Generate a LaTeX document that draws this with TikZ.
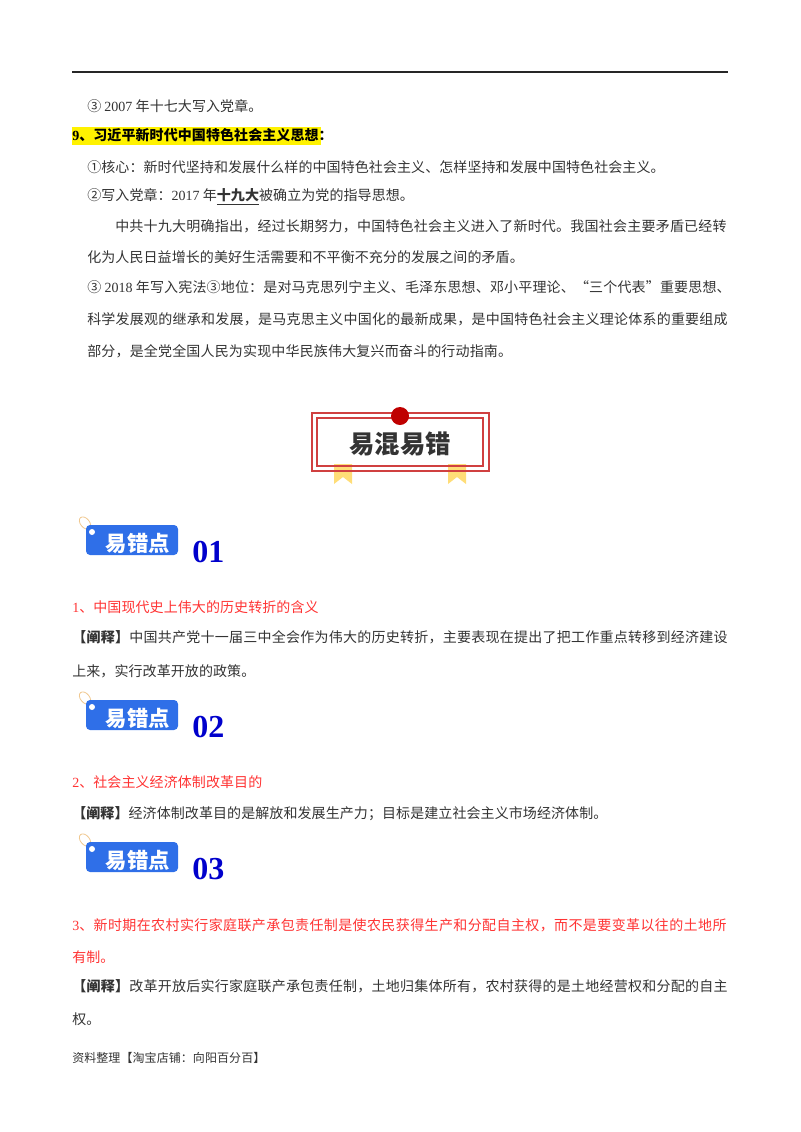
\documentclass[tikz,border=0pt]{standalone}
\usepackage{fontspec}
\setmainfont{Noto Sans CJK SC}[LetterSpace=0.6]
\newfontfamily\latfont{Liberation Serif}
\newcommand{\lat}[1]{{\latfont #1}}
\definecolor{tagblue}{HTML}{2F6FE8}
\definecolor{numblue}{HTML}{0000CC}
\definecolor{framered}{HTML}{D04040}
\definecolor{ribbonyellow}{HTML}{FFDD77}
\definecolor{loopcolor}{HTML}{F0C890}
\definecolor{errred}{HTML}{FF3333}
\tikzset{
  bodyline/.style={anchor=west, inner sep=0pt, text height=9pt, text depth=2pt, font=\fontsize{10.5}{12}\selectfont, text=black!80},
  redline/.style={bodyline, text=errred},
  fitline/.style={font=\fontsize{10.5}{12}\selectfont\addfontfeature{LetterSpace=#1}},
}
\begin{document}
\begin{tikzpicture}[x=0.75pt, y=-0.75pt]
  \useasboundingbox (0,0) rectangle (800,1132);

  %%-- TOP RULE --%%
  \draw[line width=1.5pt, black!85] (72,72) -- (728,72);

  %%-- UPPER TEXT --%%
  \node[bodyline] (third) at (87,107) {③ \lat{2007} 年十七大写入党章。};
  \fill[yellow] (72,127) rectangle (321,145);
  \node[bodyline, text=black] (heading) at (72,136) {\bfseries\lat{9}、习近平新时代中国特色社会主义思想：};
  \node[bodyline] (core) at (87,168) {①核心：新时代坚持和发展什么样的中国特色社会主义、怎样坚持和发展中国特色社会主义。};
  \node[bodyline] (party) at (87,196) {②写入党章：\lat{2017} 年\underline{\textbf{十九大}}被确立为党的指导思想。};
  \node[bodyline, fitline=1.6] (parA) at (115,227) {中共十九大明确指出，经过长期努力，中国特色社会主义进入了新时代。我国社会主要矛盾已经转};
  \node[bodyline] (parB) at (87,258) {化为人民日益增长的美好生活需要和不平衡不充分的发展之间的矛盾。};
  \node[bodyline, fitline=1.2] (parC) at (87,288) {③ \lat{2018} 年写入宪法③地位：是对马克思列宁主义、毛泽东思想、邓小平理论、“三个代表”重要思想、};
  \node[bodyline, fitline=1.7] (parD) at (87,320) {科学发展观的继承和发展，是马克思主义中国化的最新成果，是中国特色社会主义理论体系的重要组成};
  \node[bodyline, fitline=1.2] (parE) at (87,352) {部分，是全党全国人民为实现中华民族伟大复兴而奋斗的行动指南。};

  %%-- TITLE BADGE --%%
  \foreach \rx in {334,448} {
    \fill[ribbonyellow] (\rx,464) -- (\rx+18,464) -- (\rx+18,484) -- (\rx+9,477) -- (\rx,484) -- cycle;
  }
  \draw[framered, line width=0.9pt] (312,413) rectangle (489,471);
  \draw[framered, line width=1pt] (317,418) rectangle (483,466);
  \fill[red!75!black] (400,416) circle (9);
  \node[font=\fontsize{19}{21}\selectfont\bfseries, text=black!80, inner sep=0pt] (badge) at (400,444) {易混易错};

  %%-- BLUE TAGS --%%
  \foreach \dy/\tagnum in {0/01,175/02,317/03} {
    \draw[loopcolor, line width=0.6pt, rotate around={40:(85,523+\dy)}] (85,523+\dy) ellipse (4.5 and 7);
    \fill[tagblue, rounded corners=3pt] (86,525+\dy) rectangle (178,555+\dy);
    \fill[white] (92,532+\dy) circle (3);
    \node[font=\fontsize{16}{18}\selectfont\bfseries, text=white, inner sep=0pt] (tag\tagnum) at (138,543+\dy) {易错点};
    \node[font=\fontsize{24}{26}\selectfont\bfseries\latfont, text=numblue, inner sep=0pt, anchor=west] (num\tagnum) at (192,552+\dy) {\tagnum};
  }

  %%-- ERROR POINT 1 --%%
  \node[redline] (errA) at (72,608) {\lat{1}、中国现代史上伟大的历史转折的含义};
  \node[bodyline, fitline=1.8] (noteA) at (72,638) {\textbf{【阐释】}中国共产党十一届三中全会作为伟大的历史转折，主要表现在提出了把工作重点转移到经济建设};
  \node[bodyline] (noteAb) at (72,672) {上来，实行改革开放的政策。};

  %%-- ERROR POINT 2 --%%
  \node[redline] (errB) at (72,783) {\lat{2}、社会主义经济体制改革目的};
  \node[bodyline] (noteB) at (72,814) {\textbf{【阐释】}经济体制改革目的是解放和发展生产力；目标是建立社会主义市场经济体制。};

  %%-- ERROR POINT 3 --%%
  \node[redline, fitline=2.8] (errC) at (72,926) {\lat{3}、新时期在农村实行家庭联产承包责任制是使农民获得生产和分配自主权，而不是要变革以往的土地所};
  \node[redline] (errCb) at (72,958) {有制。};
  \node[bodyline, fitline=1.8] (noteC) at (72,987) {\textbf{【阐释】}改革开放后实行家庭联产承包责任制，土地归集体所有，农村获得的是土地经营权和分配的自主};
  \node[bodyline] (noteCb) at (72,1020) {权。};

  %%-- FOOTER --%%
  \node[bodyline, font=\fontsize{9}{11}\selectfont] (footer) at (72,1058) {资料整理【淘宝店铺：向阳百分百】};

\end{tikzpicture}
\end{document}
